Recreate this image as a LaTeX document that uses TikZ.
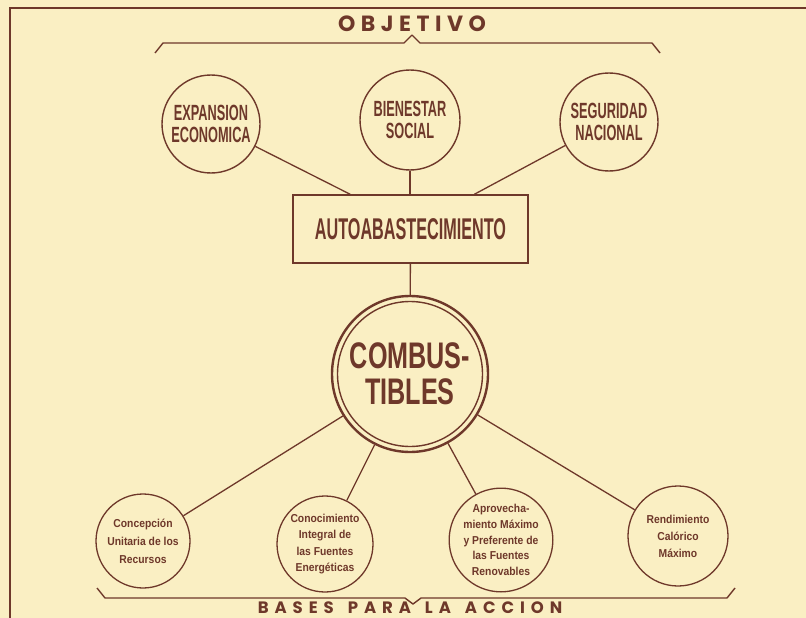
\documentclass[tikz,border=0pt]{standalone}
\usepackage{fontspec}
\setmainfont{Liberation Sans}
\newfontfamily\condfont{Liberation Sans}[FakeStretch=0.58]
\newfontfamily\boxfont{Liberation Sans}[FakeStretch=0.54]
\newfontfamily\combfont{Liberation Sans}[FakeStretch=0.68]
\newfontfamily\smallfont{Liberation Sans}[FakeStretch=0.9]
\newfontfamily\geofont{Poppins}[LetterSpace=25]
\newfontfamily\geofontb{Poppins}[LetterSpace=36]
\usetikzlibrary{calc}
\definecolor{ink}{RGB}{110,56,42}
\definecolor{paper}{RGB}{250,239,195}
\tikzset{
  goal/.style={circle, draw=ink, line width=1.4pt, minimum size=98pt, inner sep=0pt, align=center,
    text=ink, font=\condfont\bfseries\fontsize{22}{22}\selectfont},
  basecirc/.style={circle, draw=ink, line width=1.3pt, inner sep=0pt, align=center,
    text=ink, font=\smallfont\bfseries\fontsize{11.5}{16.5}\selectfont},
  link/.style={draw=ink, line width=1.3pt},
  brace/.style={draw=ink, line width=1.4pt, line join=round},
}
\begin{document}
\begin{tikzpicture}[x=1pt, y=-1pt]
\useasboundingbox (0,0) rectangle (806,618);
\fill[paper] (0,0) rectangle (806,618);
% frame
\draw[ink, line width=2pt] (10,618) -- (10,8) -- (806,8);

% title
\node[text=ink, font=\geofont\bfseries\fontsize{22}{22}\selectfont, anchor=base] (obj) at (412,32) {OBJETIVO};
\draw[brace] (155,53) -- (163,43) -- (404,43) -- (412,35) -- (420,43) -- (652,43) -- (660,53);

% goals
\node[goal] (exp) at (211,124) {EXPANSION\\ECONOMICA};
\node[goal, minimum size=100pt] (bien) at (410,120) {BIENESTAR\\SOCIAL};
\node[goal] (seg) at (609,122) {SEGURIDAD\\NACIONAL};

% box
\node[draw=ink, line width=1.4pt, minimum width=235pt, minimum height=68pt, inner sep=0pt,
  text=ink, font=\boxfont\bfseries\fontsize{30}{30}\selectfont] (box) at (410.5,229) {AUTOABASTECIMIENTO};

% combustibles
\node[circle, draw=ink, line width=2.4pt, minimum size=156pt, inner sep=0pt, align=center,
  text=ink, font=\combfont\bfseries\fontsize{37}{36}\selectfont] (comb) at (410,374) {COMBUS-\\TIBLES};
\draw[ink, line width=1.4pt] (comb.center) circle (72.5);

% bases
\node[basecirc, minimum size=94pt, font=\smallfont\bfseries\fontsize{11.5}{18}\selectfont] (conc) at (143,541) {Concepción\\Unitaria de los\\Recursos};
\node[basecirc, minimum size=96pt] (cono) at (325,544) {Conocimiento\\Integral de\\las Fuentes\\Energéticas};
\node[basecirc, minimum size=98pt, font=\smallfont\bfseries\fontsize{11.5}{15.7}\selectfont] (apro) at (501,540) {Aprovecha-\\miento Máximo\\y Preferente de\\las Fuentes\\Renovables};
\node[basecirc, minimum size=100pt, font=\smallfont\bfseries\fontsize{11.5}{17}\selectfont] (rend) at (678,536) {Rendimiento\\Calórico\\Máximo};

% connectors
\draw[link] (exp) -- ($(box.north west)!0.245!(box.north east)$);
\draw[link] (bien) -- (bien |- box.north);
\draw[link] (seg) -- ($(box.north west)!0.77!(box.north east)$);
\draw[link] (box) -- (comb);
\draw[link] (comb) -- (conc);
\draw[link] (comb) -- (cono);
\draw[link] (comb) -- (apro);
\draw[link] (comb) -- (rend);

% bottom brace and label
\draw[brace] (97,588) -- (105,598) -- (405,598) -- (413,604) -- (421,598) -- (727,598) -- (735,588);
\node[text=ink, font=\geofontb\bfseries\fontsize{16.5}{16.5}\selectfont, anchor=base, inner sep=1pt] (bases) at (410,613)
  {BASES\hspace{14pt}PARA\hspace{14pt}LA\hspace{14pt}ACCION};
\end{tikzpicture}
\end{document}
